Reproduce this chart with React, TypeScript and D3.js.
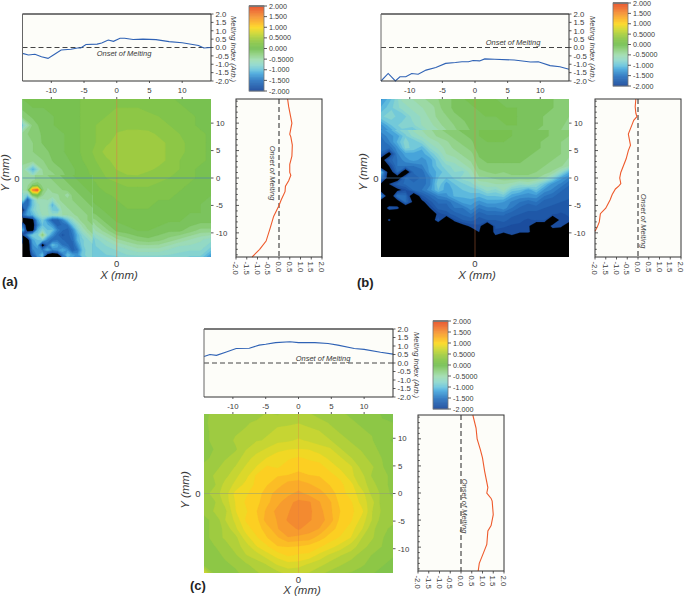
import React from "react";
import * as d3 from "d3";

// Heat grids: 19 x 19, rows from top (y=+14.4) to bottom, columns left (x=-14.4) to right.
const gridA = [
[0,.05,.05,.05,.1,.1,.15,.2,.2,.2,.2,.2,.2,.15,.15,.1,.1,.1,.05],
[-.1,0,0,.05,.1,.1,.15,.2,.2,.25,.25,.25,.2,.2,.15,.15,.1,.1,.1],
[-.2,-.1,-.05,0,.05,.1,.15,.2,.25,.3,.3,.3,.3,.25,.2,.15,.15,.1,.1],
[-.8,-.2,-.05,0,.05,.1,.15,.25,.3,.35,.33,.35,.3,.3,.25,.2,.15,.1,.1],
[-.3,-.2,-.1,-.05,0,.1,.15,.25,.3,.38,.42,.4,.42,.35,.3,.25,.15,.15,.1],
[-.3,-.25,-.1,-.05,0,.1,.15,.25,.35,.42,.45,.46,.45,.42,.35,.3,.2,.15,.1],
[-.3,-.25,-.2,-.05,0,.1,.15,.3,.42,.45,.46,.47,.45,.42,.35,.3,.2,.15,.1],
[-.35,-.3,-.25,-.1,-.05,.05,.15,.25,.35,.42,.46,.45,.46,.42,.35,.25,.2,.15,.1],
[-.4,-1.1,-.3,-.2,-.1,0,.1,.2,.3,.38,.42,.43,.4,.35,.3,.25,.15,.1,.05],
[-.45,-.45,-.4,-.3,-.15,0,.1,.15,.25,.3,.35,.35,.3,.3,.25,.2,.15,.1,.05],
[-.5,-.2,-.5,-.35,-.2,-.05,.05,.1,.2,.2,.25,.25,.25,.2,.2,.15,.1,.1,.05],
[-.8,.3,-.3,-.5,-.3,-.1,0,.05,.1,.15,.2,.2,.2,.15,.15,.1,.1,.05,0],
[-1.3,-1.7,-.9,-1.1,-.7,-.2,-.05,0,.05,.1,.15,.15,.15,.1,.1,.1,.05,0,-.05],
[-2.2,-1.4,-1,-1,-.7,-.5,-.2,-.1,0,.05,.1,.1,.1,.1,.05,.05,0,0,-.05],
[-2.5,-2.5,-1.5,-1.2,-1.5,-1.5,-.6,-.3,-.1,0,.05,.05,.05,.05,0,0,-.05,-.1,-.1],
[-2.5,-1.5,-1,-1.2,-1.6,-1.6,-1,-.5,-.3,-.1,-.05,0,0,-.05,-.1,-.1,-.2,-.3,-.3],
[-1.5,-1.8,-.9,-2.3,-1.3,-1.7,-1.4,-.8,-.6,-.4,-.3,-.2,-.15,-.2,-.3,-.4,-.5,-.6,-.7],
[-2.5,-2.5,-1.2,-2,-2.5,-1.5,-1,-.9,-.8,-.7,-.6,-.5,-.5,-.5,-.6,-.7,-.7,-.7,-.9],
[-2.5,-2.5,-2.2,-2.5,-2.5,-1.5,-1,-.9,-.9,-.9,-.8,-.8,-.8,-.8,-.8,-.8,-.9,-.9,-1.3],
];
// Finer reading of the lower-left corner of map (a)
const detailA = [
[-.5,-.45,-.4,-.35,-.3,-.25,-.2,-.15,-.1,-.05,0,0,.05,.05,.1],
[-.5,-.5,-.4,-.35,-.3,-.3,-.25,-.2,-.15,-.1,-.05,0,0,.05,.05],
[-.45,-.4,-.2,-.1,-.3,-.35,-.3,-.25,-.2,-.15,-.1,-.05,0,0,.05],
[-.5,-.35,1.6,1.9,-.2,-.4,-.35,-.3,-.25,-.2,-.15,-.1,-.05,0,0],
[-.7,-.9,-.1,.1,-.35,-.5,-.4,-.4,-.3,-.5,-.2,-.15,-.1,-.05,0],
[-.7,-1.7,-1,-.55,-.55,-.5,-.7,-.4,-.35,-.3,-.25,-.2,-.15,-.1,-.05],
[-1.5,-1.6,-1,-.7,-.5,-.6,-1.1,-.6,-.4,-.35,-.3,-.25,-.2,-.15,-.1],
[-2.2,-1.3,-.9,-.7,-.55,-.6,-.9,-1,-.45,-.4,-.35,-.3,-.25,-.2,-.15],
[-1.6,-1.2,-1.1,-.8,-.6,-.6,-.7,-.6,-.5,-.5,-.4,-.35,-.3,-.25,-.2],
[-2.3,-2.4,-2.2,-1.2,-.9,-1.3,-1.7,-1.7,-1.4,-1,-.7,-.45,-.3,-.25,-.25],
[-1.5,-2.4,-2.3,-1.4,-1,-1.1,-1.3,-1.7,-1.6,-1.5,-1,-.7,-.45,-.3,-.25],
[-1,-2.3,-2.3,-1.1,-.8,-1,-1,-1.4,-1.6,-1.7,-1.4,-.9,-.6,-.4,-.3],
[-2,-1.3,-.9,-.9,-.2,-.9,-1.3,-1.6,-1.8,-1.7,-1.5,-1.1,-.8,-.6,-.4],
[-2.4,-2.3,-1.2,-1,-.9,-1.4,-1.6,-1.5,-1.6,-1.7,-1.6,-1.1,-.9,-.8,-.6],
[-2.5,-2.5,-1.3,-1.1,-2.3,-1.6,-1,-1.2,-1.5,-1.6,-1.7,-1.3,-.9,-.8,-.8],
[-2.5,-2.5,-1.4,-1.3,-1.4,-1.1,-1.4,-1.3,-1.1,-1.3,-1.7,-1.5,-1,-.8,-.8],
[-2.5,-2.5,-1.7,-1.3,-1,-2.2,-2.4,-2.3,-1.5,-1,-1.2,-1.3,-.9,-.85,-.8],
];
const gridB = [
[-1.3,-1,-.6,-.5,-.4,-.3,-.2,-.1,0,0,0,0,-.05,-.05,-.1,-.1,-.1,-.15,-.2],
[-1.1,-.9,-.7,-.6,-.5,-.4,-.2,-.1,-.05,0,0,0,0,0,-.05,-.1,-.1,-.15,-.2],
[-.9,-.8,-1,-.7,-.6,-.4,-.3,-.15,-.1,-.05,0,0,0,0,-.05,-.1,-.15,-.2,-.25],
[-1.3,-1,-.8,-.8,-.6,-.5,-.35,-.25,-.15,-.05,-.05,-.05,0,0,-.05,-.1,-.15,-.2,-.3],
[-1.5,-1.3,-1,-1.2,-.9,-.6,-.5,-.3,-.2,-.1,-.05,-.05,-.05,-.05,-.05,-.15,-.2,-.25,-.3],
[-1.6,-1.4,-1.4,-1.1,-1,-.8,-.6,-.4,-.3,-.15,-.1,-.1,-.1,-.1,-.1,-.15,-.2,-.25,-.35],
[-1.8,-2.1,-1.4,-1.5,-1.3,-1,-.8,-.55,-.35,-.25,-.15,-.15,-.1,-.1,-.15,-.2,-.25,-.3,-.4],
[-2.3,-2.1,-1.5,-1.5,-1.5,-1.1,-1,-.8,-.5,-.35,-.25,-.2,-.2,-.2,-.25,-.3,-.35,-.4,-.5],
[-2.5,-2.3,-1.6,-2.3,-1.6,-1.5,-1.1,-.9,-.7,-.55,-.4,-.35,-.3,-.3,-.35,-.45,-.6,-.7,-1],
[-2.3,-2.4,-2.1,-1.7,-1.6,-1.5,-1.2,-1,-.85,-.8,-.7,-.6,-.55,-.6,-.7,-.85,-1.1,-1.3,-1.5],
[-2.5,-2.5,-2.4,-2.2,-1.7,-1.6,-1.4,-1.3,-1,-.95,-.9,-.85,-.8,-.85,-1,-1.2,-1.3,-1.5,-1.6],
[-2.5,-2.5,-2.3,-2.4,-2.2,-2,-1.7,-1.5,-1.3,-1.2,-1.1,-1,-1,-1,-1.2,-1.4,-1.5,-1.6,-1.7],
[-2.5,-2.5,-1.9,-2.3,-2.3,-2,-1.8,-1.7,-1.5,-1.4,-1.3,-1.3,-1.2,-1.3,-1.4,-1.6,-1.7,-1.7,-1.75],
[-2.5,-2.5,-2.4,-2.5,-2.5,-2.2,-2.1,-1.8,-1.7,-1.6,-1.5,-1.5,-1.5,-1.5,-1.6,-1.7,-1.8,-1.9,-1.8],
[-2.5,-2.5,-2.5,-2.5,-2.5,-2.5,-2.4,-2.3,-2,-1.85,-1.75,-1.7,-1.7,-1.7,-1.8,-1.8,-1.9,-2.4,-1.9],
[-2.5,-2.5,-2.5,-2.5,-2.5,-2.5,-2.5,-2.5,-2.5,-2.5,-2.1,-1.93,-1.9,-1.93,-1.97,-2.2,-2.1,-1.97,-2.2],
[-2.5,-2.5,-2.5,-2.5,-2.5,-2.5,-2.5,-2.5,-2.5,-2.5,-2.5,-2.5,-2.5,-2.5,-2.5,-2.5,-2.5,-2.5,-2.5],
[-2.5,-2.5,-2.5,-2.5,-2.5,-2.5,-2.5,-2.5,-2.5,-2.5,-2.5,-2.5,-2.5,-2.5,-2.5,-2.5,-2.5,-2.5,-2.5],
[-2.5,-2.5,-2.5,-2.5,-2.5,-2.5,-2.5,-2.5,-2.5,-2.5,-2.5,-2.5,-2.5,-2.5,-2.5,-2.5,-2.5,-2.5,-2.5],
];
// Finer reading of the lower part of map (b): 24 columns by 19 rows
const detailB = [
[-1.3,-1.2,-.9,-.8,-.6,-.5,-.4,-.3,-.2,-.15,-.1,-.05,0,0,0,0,0,-.05,-.05,-.1,-.1,-.15,-.2,-.25],
[-1.5,-1.3,-1.2,-.9,-.7,-.6,-.45,-.35,-.3,-.2,-.15,-.1,0,0,0,0,0,-.05,-.05,-.1,-.1,-.15,-.2,-.25],
[-1.6,-1.4,-1.1,-.8,-1,-.8,-.6,-.5,-.4,-.3,-.2,-.15,-.05,0,0,0,-.05,-.05,-.1,-.1,-.15,-.2,-.25,-.3],
[-1.5,-1.6,-1.3,-.85,-.9,-1.1,-.75,-.6,-.45,-.35,-.3,-.2,-.05,-.05,-.05,-.05,-.05,-.05,-.1,-.1,-.15,-.2,-.25,-.3],
[-1.7,-2.2,-1.4,-1.2,-1.2,-1.2,-1,-.75,-.5,-.45,-.35,-.3,-.1,-.1,-.05,-.05,-.05,-.1,-.1,-.15,-.2,-.2,-.25,-.35],
[-2.2,-1.7,-1.5,-1.3,-1.2,-1.3,-1.2,-.9,-.6,-.55,-.45,-.35,-.15,-.1,-.1,-.1,-.1,-.1,-.15,-.15,-.2,-.25,-.3,-.4],
[-2.5,-2,-1.5,-1.5,-1.5,-1.4,-1.2,-.95,-.8,-.7,-.55,-.45,-.2,-.15,-.15,-.15,-.15,-.15,-.15,-.2,-.25,-.3,-.35,-.5],
[-1,-2.3,-1.6,-2.4,-1.6,-1.6,-1.2,-1.1,-.9,-.75,-.8,-.55,-.3,-.25,-.2,-.25,-.2,-.2,-.2,-.25,-.3,-.4,-.7,-1.1],
[-1.4,-2.3,-2.3,-1.6,-1.7,-1.6,-1.4,-1,-1,-.85,-.7,-.65,-.4,-.4,-.35,-.3,-.3,-.3,-.3,-.35,-.5,-.8,-1.2,-1.4],
[-2.1,-2,-1.7,-1.6,-1.6,-1.6,-1.4,-.9,-1.2,-1,-.9,-.8,-.6,-.55,-.5,-.5,-.55,-.7,-.6,-.75,-1,-1.3,-1.4,-1.6],
[-2.3,-2.4,-2.1,-1.9,-1.6,-1.5,-1.3,-1,-1.2,-1.1,-1,-.95,-.9,-.7,-.8,-.6,-.95,-1,-1.2,-1,-1.3,-1.4,-1.6,-1.7],
[-1.3,-2.5,-1.5,-1.6,-2.4,-1.8,-1.6,-1.4,-1.3,-1.1,-1.1,-1.05,-1.1,-1,-1,-.95,-1.2,-1.3,-1.3,-1.3,-1.5,-1.6,-1.7,-1.7],
[-2.5,-2.5,-2.3,-1.6,-2.1,-2.1,-1.8,-1.6,-1.6,-1.4,-1.2,-1.2,-1.3,-1.2,-1.2,-1.25,-1.4,-1.5,-1.6,-1.5,-1.7,-1.7,-1.75,-1.8],
[-2.5,-1.8,-1.9,-2.4,-2.4,-2.3,-2,-1.7,-1.7,-1.5,-1.5,-1.3,-1.5,-1.4,-1.4,-1.3,-1.5,-1.65,-1.7,-1.7,-1.75,-1.8,-1.8,-1.85],
[-2.5,-2.5,-2.5,-2.5,-2.5,-2.4,-2.2,-1.95,-1.8,-1.7,-1.6,-1.5,-1.7,-1.6,-1.6,-1.6,-1.7,-1.75,-1.8,-1.8,-1.85,-1.85,-1.9,-1.85],
[-2.5,-1.9,-2.5,-2.5,-2.5,-2.5,-2.3,-1.8,-2.4,-1.9,-1.75,-1.7,-1.8,-1.75,-1.75,-1.7,-1.8,-1.85,-1.9,-1.85,-1.85,-2.4,-1.9,-1.9],
[-2.5,-2.5,-2.5,-2.5,-2.5,-2.5,-2.5,-2.4,-2.5,-2.4,-2.1,-1.95,-1.9,-2.4,-1.85,-1.85,-1.9,-1.9,-1.95,-2.3,-2.3,-1.9,-1.95,-2.2],
[-2.5,-2.5,-2.5,-2.5,-2.5,-2.5,-2.5,-2.5,-2.5,-2.5,-2.5,-2.2,-2,-2.3,-1.9,-1.95,-1.9,-1.95,-1.95,-2.2,-2.2,-2.2,-2.2,-2.3],
[-2.5,-2.5,-2.5,-2.5,-2.5,-2.5,-2.5,-2.5,-2.5,-2.5,-2.5,-2.5,-2.5,-2.5,-2.1,-2.5,-2.1,-2.5,-2.5,-2.5,-2.5,-2.5,-2.5,-2.5],
];
const gridC = [
[.35,.4,.42,.38,.47,.43,.52,.48,.57,.53,.52,.43,.47,.38,.37,.28,.32,.23,.2],
[.35,.42,.43,.47,.48,.53,.53,.62,.58,.62,.58,.57,.48,.47,.38,.37,.28,.27,.25],
[.37,.38,.47,.48,.52,.53,.62,.63,.72,.68,.67,.63,.57,.48,.47,.38,.37,.28,.27],
[.33,.42,.43,.52,.53,.62,.63,.72,.73,.77,.73,.72,.63,.57,.48,.47,.38,.32,.23],
[.32,.38,.47,.48,.62,.68,.77,.83,.87,.88,.87,.78,.77,.63,.57,.48,.42,.33,.32],
[.33,.42,.48,.57,.68,.82,.88,.97,.98,1.02,.98,.97,.83,.77,.63,.57,.43,.37,.28],
[.42,.43,.57,.63,.77,.88,1.02,.98,1.07,1.03,1.07,1.03,.97,.83,.77,.58,.52,.38,.32],
[.38,.52,.58,.72,.83,1.02,1.03,1.12,1.13,1.22,1.13,1.12,1.03,.97,.78,.67,.48,.42,.33],
[.47,.48,.67,.78,.92,1.03,1.12,1.18,1.32,1.28,1.27,1.18,1.12,1.03,.92,.68,.57,.38,.37],
[.43,.57,.68,.92,.98,1.07,1.18,1.32,1.33,1.42,1.33,1.32,1.18,1.07,.93,.82,.58,.47,.33],
[.42,.48,.67,.88,1.02,1.08,1.22,1.33,1.47,1.53,1.52,1.38,1.27,1.08,1.02,.83,.67,.43,.42],
[.38,.52,.58,.87,.98,1.12,1.28,1.42,1.48,1.62,1.53,1.42,1.28,1.12,1.03,.92,.63,.47,.38],
[.37,.38,.62,.78,1.02,1.08,1.32,1.38,1.52,1.53,1.52,1.43,1.32,1.08,1.02,.83,.62,.43,.42],
[.33,.42,.53,.72,.93,1.07,1.18,1.37,1.43,1.52,1.43,1.37,1.18,1.07,.93,.77,.53,.42,.33],
[.32,.43,.52,.58,.82,.98,1.12,1.23,1.37,1.33,1.32,1.18,1.07,.98,.87,.63,.52,.38,.32],
[.28,.37,.43,.57,.68,.87,.98,1.12,1.13,1.12,1.08,1.02,.93,.82,.68,.57,.43,.37,.28],
[.27,.28,.42,.48,.62,.68,.82,.93,1.02,.98,.97,.83,.72,.63,.57,.43,.37,.28,.27],
[.28,.27,.33,.42,.48,.57,.63,.77,.83,.82,.73,.67,.58,.52,.43,.42,.28,.27,.18],
[.8,.3,.32,.33,.47,.48,.57,.58,.67,.63,.62,.53,.47,.38,.37,.28,.27,.18,.2],
];

// Horizontal profiles: [x mm, melting index]
const topA: [number, number][] = [[-14.4,-.35],[-13.5,-.45],[-12.5,-.4],[-11.5,-.55],[-10.5,-.65],[-9.5,-.4],[-8.5,-.15],[-7,-.1],[-6,-.03],[-5.5,-.03],[-4.7,.18],[-3,.2],[-2.3,.27],[-1.3,.45],[-.5,.37],[.5,.55],[1.2,.55],[2.5,.48],[4,.5],[6,.47],[8,.35],[10,.28],[12.5,.12],[13.3,-.03],[14.4,0]];
const topB: [number, number][] = [[-14.4,-2],[-13.3,-1.55],[-12.2,-2],[-11.5,-1.75],[-10.6,-1.75],[-9.7,-1.55],[-8.7,-1.6],[-7.5,-1.35],[-6,-1.2],[-4.5,-.95],[-3,-.9],[-2,-.85],[-1,-.85],[-.3,-.78],[.7,-.8],[1.5,-.68],[3,-.7],[6,-.75],[8.5,-.87],[9.7,-.85],[11.5,-1.08],[13,-1.15],[14.4,-1.3]];
const topC: [number, number][] = [[-14.4,.38],[-13.5,.5],[-12.5,.45],[-11,.65],[-9.5,.85],[-7.5,.87],[-6,1.05],[-5,1.1],[-3.5,1.2],[-1.3,1.25],[0,1.2],[2.5,1.2],[4.5,1.15],[6,1.05],[8.5,.85],[10,.8],[12.5,.63],[14.4,.52]];

// Vertical profiles: [y mm, melting index]
const sideA: [number, number][] = [[14.4,.4],[13,.45],[12,.5],[11,.55],[10,.6],[8,.5],[7.5,.55],[6,.62],[4,.6],[2.5,.5],[1,.5],[.5,.55],[-.5,.45],[-1.5,.3],[-2.5,.28],[-4,.1],[-5,0],[-7,-.25],[-9,-.4],[-11.5,-.6],[-13,-.9],[-14.4,-1.25]];
const sideB: [number, number][] = [[14.4,-.1],[13,-.13],[11.8,-.1],[11.2,-.05],[10.5,-.2],[10,-.25],[9.5,-.3],[8,-.45],[7,-.4],[6,-.35],[5,-.45],[3.5,-.55],[1,-.8],[0,-.85],[-1,-.8],[-1.5,-.9],[-2,-1.05],[-3,-1.2],[-4,-1.3],[-5.5,-1.5],[-6.5,-1.75],[-8,-1.8],[-9,-1.9],[-9.7,-2]];
const sideC: [number, number][] = [[14.4,.55],[12,.7],[10,.75],[8,.9],[6.5,1],[4,1.1],[1,1.25],[0,1.2],[-1,1.4],[-1.5,1.45],[-4,1.5],[-6,1.4],[-7,1.25],[-9.5,1.2],[-11,1.05],[-13,.85],[-14.4,.8]];

const colorDomain = [-2.01,-1.97,-1.5,-1.15,-1,-.75,-.5,-.25,0,.25,.5,.75,1,1.25,1.5,1.75,2];
const colorRange = ["#000000","#1a4a9c","#2a75c0","#4aaadd","#6ac4dd","#8fd8cc","#a0dcb0","#8fd07f","#74bf52","#85c548","#a6cd3e","#d0d82f","#fcd820","#fbb426","#f59331","#ee6e2c","#e74e25"];
const bandEdges = d3.range(-2.0, 2.01, 0.125);
const barTicks = ["2.000","1.500","1.000","0.5000","0.000","-0.5000","-1.000","-1.500","-2.000"];
const barTickValues = [2,1.5,1,.5,0,-.5,-1,-1.5,-2];
const yTopTicks = [2,1.5,1,.5,0,-.5,-1,-1.5,-2];
const mmTicks = [-10,-5,0,5,10];
const mmMinor = [-14,-13,-12,-11,-10,-9,-8,-7,-6,-5,-4,-3,-2,-1,0,1,2,3,4,5,6,7,8,9,10,11,12,13,14];
const FONT = "'Liberation Sans', Arial, sans-serif";
const INK = "#3a3a3a";
const color = d3.scaleLinear<string>().domain(colorDomain).range(colorRange).clamp(true);
const DOM = 14.4;

type Detail = { grid: number[][]; x0: number; x1: number; y0: number; y1: number; cy1: number };
type P = {
  grid: number[][]; detail?: Detail; top: [number, number][]; side: [number, number][];
  x0: number; x1: number; ty0: number; ty1: number; hy0: number; hy1: number;
  sx0: number; sx1: number; sy0: number; sy1: number;
  bx0: number; by0: number; by1: number;
  tag: string; tagX: number; tagY: number;
  xlX: number; xlY: number; zeroY: number; ylX: number; ylY: number; zeroX: number; zeroLeftY: number;
  onTop: [number, number]; onSide: [number, number]; miX: number; miY: number;
  hLine: string; id: string; vOp: number; hOp: number;
};
const panels: P[] = [
  { id:"a", grid:gridA, detail:{grid:detailA,x0:22.5,x1:92.5,y0:175,y1:255,cy1:257}, top:topA, side:sideA, x0:22.5,x1:211,ty0:14,ty1:81,hy0:99,hy1:257,sx0:236,sx1:322,sy0:99,sy1:257,bx0:249,by0:6,by1:91,tag:"(a)",tagX:2,tagY:286,xlX:119,xlY:279,zeroY:267,ylX:9,ylY:173,zeroX:17,zeroLeftY:182,onTop:[124,55.5],onSide:[270,173],miX:231,miY:49,hLine:"#4a7fb5",vOp:.6,hOp:.7 },
  { id:"b", grid:gridB, detail:{grid:detailB,x0:381,x1:569,y0:130,y1:238,cy1:240}, top:topB, side:sideB, x0:381,x1:569,ty0:14,ty1:81,hy0:99,hy1:257,sx0:595,sx1:681,sy0:99,sy1:257,bx0:613,by0:3,by1:86,tag:"(b)",tagX:357,tagY:287,xlX:477,xlY:279,zeroY:267,ylX:367,ylY:172,zeroX:376,zeroLeftY:182,onTop:[513,44.5],onSide:[641,221],miX:590,miY:49,hLine:"#4a7fb5",vOp:.45,hOp:.7 },
  { id:"c", grid:gridC, top:topC, side:sideC, x0:204,x1:393,ty0:329,ty1:397,hy0:414,hy1:573,sx0:418,sx1:504,sy0:415,sy1:571,bx0:433,by0:321,by1:409,tag:"(c)",tagX:190,tagY:590,xlX:302,xlY:594,zeroY:583,ylX:189,ylY:490,zeroX:198,zeroLeftY:497,onTop:[323,361],onSide:[462,506],miX:414,miY:365,hLine:"#8a9a80",vOp:.35,hOp:.55 },
];

function contourPaths(grid: number[][], x0: number, x1: number, y0: number, y1: number) {
  const rows = grid.length, cols = grid[0].length;
  const gx = d3.scaleLinear().domain([0.5, cols - 0.5]).range([x0, x1]);
  const gy = d3.scaleLinear().domain([0.5, rows - 0.5]).range([y0, y1]);
  const contours = d3.contours().size([cols, rows]).smooth(true).thresholds(bandEdges)(grid.flat());
  const proj = d3.geoTransform({ point(this: any, x: number, y: number) { this.stream.point(gx(x), gy(y)); } });
  const path = d3.geoPath(proj);
  return contours.map((c, i) => (
    <path key={i} d={path(c as any) ?? ""} fill={color(c.value + 0.0625)} stroke={color(c.value + 0.0625)} strokeWidth={0.2} />
  ));
}

function Panel({ p }: { p: P }) {
  const xs = d3.scaleLinear().domain([-DOM, DOM]).range([p.x0, p.x1]);
  const ysHeat = d3.scaleLinear().domain([DOM, -DOM]).range([p.hy0, p.hy1]);
  const yTop = d3.scaleLinear().domain([-2, 2]).range([p.ty1, p.ty0]);
  const xSide = d3.scaleLinear().domain([-2, 2]).range([p.sx0, p.sx1]);
  const ySide = d3.scaleLinear().domain([DOM, -DOM]).range([p.sy0, p.sy1]);
  const yBar = d3.scaleLinear().domain([2, -2]).range([p.by0, p.by1]);

  const topLine = d3.line<[number, number]>().x(d => xs(d[0])).y(d => yTop(d[1]));
  const sideLine = d3.line<[number, number]>().x(d => xSide(d[1])).y(d => ySide(d[0]));
  const clipId = `clip-${p.id}`;
  const tick = { stroke: "#333", strokeWidth: 0.8 };
  const txt = { fontFamily: FONT, fill: INK };
  const d = p.detail;

  return (
    <g>
      <defs>
        <clipPath id={clipId}><rect x={p.x0} y={p.hy0} width={p.x1 - p.x0} height={p.hy1 - p.hy0} /></clipPath>
        {d && <clipPath id={`${clipId}-d`}><rect x={d.x0} y={d.y0} width={d.x1 - d.x0} height={d.cy1 - d.y0} /></clipPath>}
      </defs>

      {/* top profile */}
      <rect x={p.x0} y={p.ty0} width={p.x1 - p.x0} height={p.ty1 - p.ty0} fill="#fdfdf9" />
      <line x1={p.x0} x2={p.x1} y1={yTop(0)} y2={yTop(0)} stroke="#444" strokeWidth={1} strokeDasharray="5 3" />
      <path d={topLine(p.top) ?? ""} fill="none" stroke="#2f62b5" strokeWidth={1.1} />
      <path d={`M${p.x0},${p.ty1}V${p.ty0}H${p.x1}`} fill="none" stroke="#666" strokeWidth={1} />
      <line x1={p.x0} x2={p.x1} y1={p.ty0} y2={p.ty0} stroke="#666" strokeWidth={1.6} />
      <path d={`M${p.x0},${p.ty1}H${p.x1}V${p.ty0}`} fill="none" stroke="#333" strokeWidth={1} />
      {yTopTicks.map(v => (
        <g key={v}>
          <line x1={p.x1} x2={p.x1 + 2.5} y1={yTop(v)} y2={yTop(v)} {...tick} />
          <text x={p.x1 + 4.5} y={yTop(v) + 2.8} fontSize={7.8} {...txt}>{v.toFixed(1)}</text>
        </g>
      ))}
      {mmTicks.map(v => (
        <g key={v}>
          <line x1={xs(v)} x2={xs(v)} y1={p.ty1} y2={p.ty1 + 2} {...tick} />
          <text x={xs(v)} y={p.ty1 + 12} fontSize={7.8} textAnchor="middle" {...txt}>{v}</text>
        </g>
      ))}
      <text x={p.onTop[0]} y={p.onTop[1]} fontSize={7.5} fontStyle="italic" textAnchor="middle" {...txt}>Onset of Melting</text>
      <text transform={`translate(${p.miX},${p.miY}) rotate(90)`} fontSize={7.6} fontStyle="italic" textAnchor="middle" {...txt}>Melting Index (Arb.)</text>

      {/* heat map */}
      <rect x={p.x0} y={p.hy0} width={p.x1 - p.x0} height={p.hy1 - p.hy0} fill="#000" />
      <g clipPath={`url(#${clipId})`}>{contourPaths(p.grid, p.x0, p.x1, p.hy0, p.hy1)}</g>
      {d && (
        <g clipPath={`url(#${clipId}-d)`}>
          <rect x={d.x0} y={d.y0} width={d.x1 - d.x0} height={d.cy1 - d.y0} fill="#000" />
          {contourPaths(d.grid, d.x0, d.x1, d.y0, d.y1)}
        </g>
      )}
      <line x1={xs(0)} x2={xs(0)} y1={p.hy0} y2={p.hy1} stroke="#e07a45" strokeWidth={0.9} opacity={p.vOp} />
      <line x1={p.x0} x2={p.x1} y1={ysHeat(0)} y2={ysHeat(0)} stroke={p.hLine} strokeWidth={0.9} opacity={p.hOp} />
      {mmTicks.map(v => (
        <g key={v}>
          <line x1={xs(v)} x2={xs(v)} y1={p.hy0} y2={p.hy0 - 2} {...tick} />
          <line x1={p.x1} x2={p.x1 + 2.5} y1={ysHeat(v)} y2={ysHeat(v)} {...tick} />
          <text x={p.x1 + 5} y={ysHeat(v) + 2.8} fontSize={7.8} {...txt}>{v}</text>
        </g>
      ))}
      <text x={xs(0)} y={p.zeroY} fontSize={9.5} textAnchor="middle" {...txt}>0</text>
      <text x={p.zeroX} y={p.zeroLeftY} fontSize={9.5} textAnchor="middle" {...txt}>0</text>
      <text x={p.xlX} y={p.xlY} fontSize={11.5} fontStyle="italic" textAnchor="middle" {...txt}>X (mm)</text>
      <text transform={`translate(${p.ylX},${p.ylY}) rotate(-90)`} fontSize={11.5} fontStyle="italic" textAnchor="middle" {...txt}>Y (mm)</text>

      {/* side profile */}
      <rect x={p.sx0} y={p.sy0} width={p.sx1 - p.sx0} height={p.sy1 - p.sy0} fill="#fdfdf9" />
      <line x1={xSide(0)} x2={xSide(0)} y1={p.sy0} y2={p.sy1} stroke="#222" strokeWidth={1} strokeDasharray="5 3" />
      <path d={sideLine(p.side) ?? ""} fill="none" stroke="#ee5a2c" strokeWidth={1.1} />
      <rect x={p.sx0} y={p.sy0} width={p.sx1 - p.sx0} height={p.sy1 - p.sy0} fill="none" stroke="#333" strokeWidth={1} />
      {mmMinor.map(v => (
        <line key={v} x1={p.sx0} x2={p.sx0 + (v % 5 === 0 ? 3 : 1.8)} y1={ySide(v)} y2={ySide(v)} {...tick} />
      ))}
      {yTopTicks.map(v => (
        <g key={v}>
          <line x1={xSide(v)} x2={xSide(v)} y1={p.sy1} y2={p.sy1 + 2.5} {...tick} />
          <text transform={`translate(${xSide(v) - 2.8},${p.sy1 + 4.5}) rotate(90)`} fontSize={7.8} {...txt}>{v.toFixed(1)}</text>
        </g>
      ))}
      <text transform={`translate(${p.onSide[0]},${p.onSide[1]}) rotate(90)`} fontSize={7.5} fontStyle="italic" textAnchor="middle" {...txt}>Onset of Melting</text>

      {/* colour bar */}
      {d3.range(-2, 2, 0.02).map(v => (
        <rect key={v} x={p.bx0} y={yBar(v + 0.02)} width={15} height={yBar(v) - yBar(v + 0.02) + 0.3}
          fill={color(v + 0.01)} />
      ))}
      <rect x={p.bx0} y={p.by0} width={15} height={p.by1 - p.by0} fill="none" stroke="#777" strokeWidth={0.8} />
      <line x1={p.bx0} x2={p.bx0 + 15} y1={p.by0} y2={p.by0} stroke="#777" strokeWidth={1.8} />
      {barTicks.map((t, i) => (
        <g key={t}>
          <line x1={p.bx0 + 15} x2={p.bx0 + 18} y1={yBar(barTickValues[i])} y2={yBar(barTickValues[i])} {...tick} />
          <text x={p.bx0 + 20} y={yBar(barTickValues[i]) + 2.6} fontSize={7.2} {...txt}>{t}</text>
        </g>
      ))}

      <text x={p.tagX} y={p.tagY} fontSize={13} fontWeight="bold" fontFamily={FONT} fill="#222">{p.tag}</text>
    </g>
  );
}

export default function App() {
  return (
    <svg width={685} height={596} style={{ position: "absolute", left: 0, top: 0, background: "#fff" }}>
      {panels.map(p => <Panel key={p.id} p={p} />)}
    </svg>
  );
}
